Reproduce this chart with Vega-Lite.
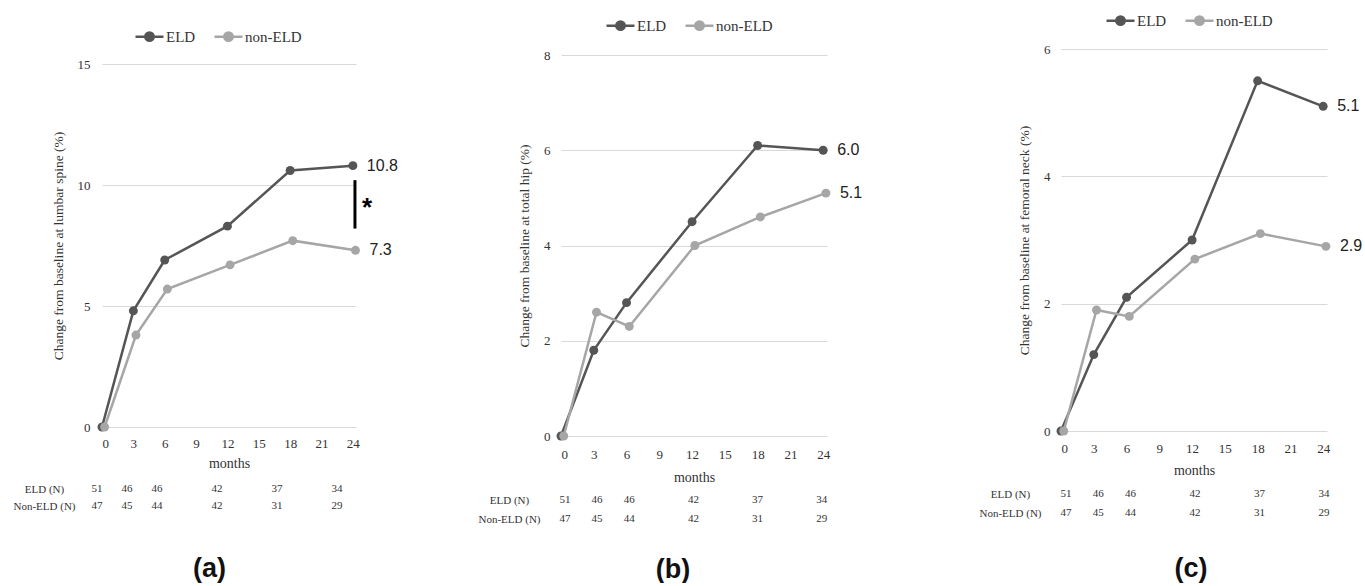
{
  "$schema": "https://vega.github.io/schema/vega-lite/v6.json",
  "background": "white",
  "padding": {"left": 12, "top": 0, "right": 0, "bottom": 0},
  "autosize": {"type": "pad"},
  "spacing": 78,
  "resolve": {"scale": {"color": "independent"}, "legend": {"color": "independent"}},
  "config": {
    "view": {"stroke": null},
    "font": "Liberation Serif",
    "axis": {
      "labelFont": "Liberation Serif", "labelFontSize": 13, "labelColor": "#333333", "labelOverlap": false,
      "titleFont": "Liberation Serif", "titleFontSize": 13.5, "titleFontWeight": "normal", "titleColor": "#333333",
      "ticks": false, "tickSize": 0, "domain": false, "gridColor": "#d9d9d9", "gridWidth": 1.2
    },
    "legend": {
      "direction": "horizontal", "title": null, "padding": 0,
      "symbolType": "M-1,0H1M0.3,0A0.3,0.3,0,1,1,-0.3,0A0.3,0.3,0,1,1,0.3,0Z",
      "symbolSize": 784, "symbolStrokeWidth": 2.5, "symbolOpacity": 1,
      "labelFont": "Liberation Serif", "labelFontSize": 15, "labelColor": "#333333",
      "labelOffset": 1, "columnPadding": 13
    }
  },
  "hconcat": [
    {
      "bounds": "flush",
      "spacing": 0,
      "vconcat": [
        {"width": 254, "height": 64, "data": {"values": []}, "mark": "text"},
        {
          "bounds": "flush",
          "spacing": 53.5,
          "vconcat": [
            {
              "width": 254, "height": 363,
              "layer": [
                {
                  "data": {"values": [
                    {"group": "ELD", "month": 0, "value": 0},
                    {"group": "ELD", "month": 3, "value": 4.8},
                    {"group": "ELD", "month": 6, "value": 6.9},
                    {"group": "ELD", "month": 12, "value": 8.3},
                    {"group": "ELD", "month": 18, "value": 10.6},
                    {"group": "ELD", "month": 24, "value": 10.8},
                    {"group": "non-ELD", "month": 0.25, "value": 0},
                    {"group": "non-ELD", "month": 3.25, "value": 3.8},
                    {"group": "non-ELD", "month": 6.25, "value": 5.7},
                    {"group": "non-ELD", "month": 12.25, "value": 6.7},
                    {"group": "non-ELD", "month": 18.25, "value": 7.7},
                    {"group": "non-ELD", "month": 24.25, "value": 7.3}
                  ]},
                  "layer": [
                    {
                      "mark": {"type": "line", "strokeWidth": 2.5},
                      "encoding": {
                        "x": {"field": "month", "type": "quantitative", "scale": {"domain": [0, 24.3], "nice": false},
                          "axis": {"values": [0, 3, 6, 9, 12, 15, 18, 21, 24], "labelOverlap": false, "labelSeparation": 0, "grid": false, "title": "months", "titleFontSize": 14, "labelPadding": 10, "titlePadding": 6}},
                        "y": {"field": "value", "type": "quantitative", "scale": {"domain": [0, 15], "nice": false},
                          "axis": {"values": [0, 5, 10, 15], "format": "d", "grid": true, "title": "Change from baseline at lumbar spine (%)", "labelPadding": 12, "titlePadding": 12}},
                        "color": {"field": "group", "type": "nominal", "scale": {"domain": ["ELD", "non-ELD"], "range": ["#555555", "#a6a6a6"]},
                          "legend": {"orient": "none", "legendX": 32, "legendY": 21,
                            "encode": {"symbols": {"update": {"fill": {"signal": "datum.value === 'ELD' ? '#555555' : '#a6a6a6'"}, "stroke": {"signal": "datum.value === 'ELD' ? '#555555' : '#a6a6a6'"}}}}}}
                      }
                    },
                    {
                      "mark": {"type": "point", "filled": true, "size": 80, "opacity": 1},
                      "encoding": {
                        "x": {"field": "month", "type": "quantitative", "axis": {"values": [0, 3, 6, 9, 12, 15, 18, 21, 24], "labelOverlap": false}},
                        "y": {"field": "value", "type": "quantitative"},
                        "color": {"field": "group", "type": "nominal"}
                      }
                    },
                    {
                      "transform": [{"filter": "datum.month >= 24"}],
                      "mark": {"type": "text", "align": "left", "baseline": "middle", "dx": 14, "font": "Liberation Sans", "fontSize": 16, "color": "#222222"},
                      "encoding": {
                        "x": {"field": "month", "type": "quantitative", "axis": {"values": [0, 3, 6, 9, 12, 15, 18, 21, 24], "labelOverlap": false}},
                        "y": {"field": "value", "type": "quantitative"},
                        "text": {"field": "value", "type": "quantitative", "format": ".1f"}
                      }
                    }
                  ]
                },
                {
                  "data": {"values": [{"month": 24.2, "value": 10.2, "value2": 8.2}]},
                  "mark": {"type": "rule", "strokeWidth": 3, "color": "#000000"},
                  "encoding": {
                    "x": {"field": "month", "type": "quantitative", "axis": {"values": [0, 3, 6, 9, 12, 15, 18, 21, 24], "labelOverlap": false}},
                    "y": {"field": "value", "type": "quantitative"},
                    "y2": {"field": "value2"}
                  }
                },
                {
                  "data": {"values": [{"month": 24.2, "value": 8.7, "label": "*"}]},
                  "mark": {"type": "text", "align": "left", "baseline": "alphabetic", "dx": 7, "font": "Liberation Sans", "fontSize": 26, "fontWeight": "bold", "color": "#000000"},
                  "encoding": {
                    "x": {"field": "month", "type": "quantitative", "axis": {"values": [0, 3, 6, 9, 12, 15, 18, 21, 24], "labelOverlap": false}},
                    "y": {"field": "value", "type": "quantitative"},
                    "text": {"field": "label"}
                  }
                }
              ]
            },
            {
              "width": 254, "height": 34,
              "data": {"values": [
                {"group": "ELD (N)", "month": 0, "n": 51},
                {"group": "ELD (N)", "month": 3, "n": 46},
                {"group": "ELD (N)", "month": 6, "n": 46},
                {"group": "ELD (N)", "month": 12, "n": 42},
                {"group": "ELD (N)", "month": 18, "n": 37},
                {"group": "ELD (N)", "month": 24, "n": 34},
                {"group": "Non-ELD (N)", "month": 0, "n": 47},
                {"group": "Non-ELD (N)", "month": 3, "n": 45},
                {"group": "Non-ELD (N)", "month": 6, "n": 44},
                {"group": "Non-ELD (N)", "month": 12, "n": 42},
                {"group": "Non-ELD (N)", "month": 18, "n": 31},
                {"group": "Non-ELD (N)", "month": 24, "n": 29}
              ]},
              "title": {"text": "(a)", "orient": "bottom", "frame": "group", "anchor": "middle", "dx": -19.5, "offset": 41, "font": "Liberation Sans", "fontSize": 27, "fontWeight": "bold", "color": "#111111"},
              "mark": {"type": "text", "font": "Liberation Serif", "fontSize": 11, "color": "#333333", "baseline": "middle"},
              "encoding": {
                "x": {"field": "month", "type": "quantitative", "scale": {"domain": [0.5, 25.9], "nice": false, "zero": false}, "axis": null},
                "y": {"field": "group", "type": "nominal", "scale": {"type": "point", "padding": 0.5, "domain": ["ELD (N)", "Non-ELD (N)"]},
                  "axis": {"title": null, "domain": false, "ticks": false, "grid": false, "labelAlign": "center", "labelPadding": 58, "labelFontSize": 11, "labelColor": "#333333"}},
                "text": {"field": "n", "type": "quantitative"}
              }
            }
          ]
        }
      ]
    },
    {
      "bounds": "flush",
      "spacing": 0,
      "vconcat": [
        {"width": 266, "height": 55, "data": {"values": []}, "mark": "text"},
        {
          "bounds": "flush",
          "spacing": 54.5,
          "vconcat": [
            {
              "width": 266, "height": 381,
              "data": {"values": [
                {"group": "ELD", "month": 0, "value": 0},
                {"group": "ELD", "month": 3, "value": 1.8},
                {"group": "ELD", "month": 6, "value": 2.8},
                {"group": "ELD", "month": 12, "value": 4.5},
                {"group": "ELD", "month": 18, "value": 6.1},
                {"group": "ELD", "month": 24, "value": 6.0},
                {"group": "non-ELD", "month": 0.25, "value": 0},
                {"group": "non-ELD", "month": 3.25, "value": 2.6},
                {"group": "non-ELD", "month": 6.25, "value": 2.3},
                {"group": "non-ELD", "month": 12.25, "value": 4.0},
                {"group": "non-ELD", "month": 18.25, "value": 4.6},
                {"group": "non-ELD", "month": 24.25, "value": 5.1}
              ]},
              "layer": [
                {
                  "mark": {"type": "line", "strokeWidth": 2.5},
                  "encoding": {
                    "x": {"field": "month", "type": "quantitative", "scale": {"domain": [0, 24.35], "nice": false},
                      "axis": {"values": [0, 3, 6, 9, 12, 15, 18, 21, 24], "labelOverlap": false, "labelSeparation": 0, "grid": false, "title": "months", "titleFontSize": 14, "labelPadding": 12, "titlePadding": 9}},
                    "y": {"field": "value", "type": "quantitative", "scale": {"domain": [0, 8], "nice": false},
                      "axis": {"values": [0, 2, 4, 6, 8], "format": "d", "grid": true, "title": "Change from baseline at total hip (%)", "labelPadding": 11, "titlePadding": 12}},
                    "color": {"field": "group", "type": "nominal", "scale": {"domain": ["ELD", "non-ELD"], "range": ["#555555", "#a6a6a6"]},
                      "legend": {"orient": "none", "legendX": 44, "legendY": 10,
                        "encode": {"symbols": {"update": {"fill": {"signal": "datum.value === 'ELD' ? '#555555' : '#a6a6a6'"}, "stroke": {"signal": "datum.value === 'ELD' ? '#555555' : '#a6a6a6'"}}}}}}
                  }
                },
                {
                  "mark": {"type": "point", "filled": true, "size": 80, "opacity": 1},
                  "encoding": {
                    "x": {"field": "month", "type": "quantitative", "axis": {"values": [0, 3, 6, 9, 12, 15, 18, 21, 24], "labelOverlap": false}},
                    "y": {"field": "value", "type": "quantitative"},
                    "color": {"field": "group", "type": "nominal"}
                  }
                },
                {
                  "transform": [{"filter": "datum.month >= 24"}],
                  "mark": {"type": "text", "align": "left", "baseline": "middle", "dx": 14, "font": "Liberation Sans", "fontSize": 16, "color": "#222222"},
                  "encoding": {
                    "x": {"field": "month", "type": "quantitative", "axis": {"values": [0, 3, 6, 9, 12, 15, 18, 21, 24], "labelOverlap": false}},
                    "y": {"field": "value", "type": "quantitative"},
                    "text": {"field": "value", "type": "quantitative", "format": ".1f"}
                  }
                }
              ]
            },
            {
              "width": 339, "height": 38,
              "data": {"values": [
                {"group": "ELD (N)", "month": 0, "n": 51},
                {"group": "ELD (N)", "month": 3, "n": 46},
                {"group": "ELD (N)", "month": 6, "n": 46},
                {"group": "ELD (N)", "month": 12, "n": 42},
                {"group": "ELD (N)", "month": 18, "n": 37},
                {"group": "ELD (N)", "month": 24, "n": 34},
                {"group": "Non-ELD (N)", "month": 0, "n": 47},
                {"group": "Non-ELD (N)", "month": 3, "n": 45},
                {"group": "Non-ELD (N)", "month": 6, "n": 44},
                {"group": "Non-ELD (N)", "month": 12, "n": 42},
                {"group": "Non-ELD (N)", "month": 18, "n": 31},
                {"group": "Non-ELD (N)", "month": 24, "n": 29}
              ]},
              "title": {"text": "(b)", "orient": "bottom", "frame": "group", "anchor": "middle", "dx": -57.5, "offset": 28.5, "font": "Liberation Sans", "fontSize": 27, "fontWeight": "bold", "color": "#111111"},
              "mark": {"type": "text", "font": "Liberation Serif", "fontSize": 11, "color": "#333333", "baseline": "middle"},
              "encoding": {
                "x": {"field": "month", "type": "quantitative", "scale": {"domain": [-0.374, 31.31], "nice": false, "zero": false}, "axis": null},
                "y": {"field": "group", "type": "nominal", "scale": {"type": "point", "padding": 0.5, "domain": ["ELD (N)", "Non-ELD (N)"]},
                  "axis": {"title": null, "domain": false, "ticks": false, "grid": false, "labelAlign": "center", "labelPadding": 52, "labelFontSize": 11, "labelColor": "#333333"}},
                "text": {"field": "n", "type": "quantitative"}
              }
            }
          ]
        }
      ]
    },
    {
      "bounds": "flush",
      "spacing": 0,
      "vconcat": [
        {"width": 266, "height": 49, "data": {"values": []}, "mark": "text"},
        {
          "bounds": "flush",
          "spacing": 53.5,
          "vconcat": [
            {
              "width": 266, "height": 382,
              "data": {"values": [
                {"group": "ELD", "month": 0, "value": 0},
                {"group": "ELD", "month": 3, "value": 1.2},
                {"group": "ELD", "month": 6, "value": 2.1},
                {"group": "ELD", "month": 12, "value": 3.0},
                {"group": "ELD", "month": 18, "value": 5.5},
                {"group": "ELD", "month": 24, "value": 5.1},
                {"group": "non-ELD", "month": 0.25, "value": 0},
                {"group": "non-ELD", "month": 3.25, "value": 1.9},
                {"group": "non-ELD", "month": 6.25, "value": 1.8},
                {"group": "non-ELD", "month": 12.25, "value": 2.7},
                {"group": "non-ELD", "month": 18.25, "value": 3.1},
                {"group": "non-ELD", "month": 24.25, "value": 2.9}
              ]},
              "layer": [
                {
                  "mark": {"type": "line", "strokeWidth": 2.5},
                  "encoding": {
                    "x": {"field": "month", "type": "quantitative", "scale": {"domain": [0, 24.35], "nice": false},
                      "axis": {"values": [0, 3, 6, 9, 12, 15, 18, 21, 24], "labelOverlap": false, "labelSeparation": 0, "grid": false, "title": "months", "titleFontSize": 14, "labelPadding": 11, "titlePadding": 8}},
                    "y": {"field": "value", "type": "quantitative", "scale": {"domain": [0, 6], "nice": false},
                      "axis": {"values": [0, 2, 4, 6], "format": "d", "grid": true, "title": "Change from baseline at femoral neck (%)", "labelPadding": 11, "titlePadding": 12}},
                    "color": {"field": "group", "type": "nominal", "scale": {"domain": ["ELD", "non-ELD"], "range": ["#555555", "#a6a6a6"]},
                      "legend": {"orient": "none", "legendX": 44, "legendY": 5,
                        "encode": {"symbols": {"update": {"fill": {"signal": "datum.value === 'ELD' ? '#555555' : '#a6a6a6'"}, "stroke": {"signal": "datum.value === 'ELD' ? '#555555' : '#a6a6a6'"}}}}}}
                  }
                },
                {
                  "mark": {"type": "point", "filled": true, "size": 80, "opacity": 1},
                  "encoding": {
                    "x": {"field": "month", "type": "quantitative", "axis": {"values": [0, 3, 6, 9, 12, 15, 18, 21, 24], "labelOverlap": false}},
                    "y": {"field": "value", "type": "quantitative"},
                    "color": {"field": "group", "type": "nominal"}
                  }
                },
                {
                  "transform": [{"filter": "datum.month >= 24"}],
                  "mark": {"type": "text", "align": "left", "baseline": "middle", "dx": 14, "font": "Liberation Sans", "fontSize": 16, "color": "#222222"},
                  "encoding": {
                    "x": {"field": "month", "type": "quantitative", "axis": {"values": [0, 3, 6, 9, 12, 15, 18, 21, 24], "labelOverlap": false}},
                    "y": {"field": "value", "type": "quantitative"},
                    "text": {"field": "value", "type": "quantitative", "format": ".1f"}
                  }
                }
              ]
            },
            {
              "width": 266, "height": 38,
              "data": {"values": [
                {"group": "ELD (N)", "month": 0, "n": 51},
                {"group": "ELD (N)", "month": 3, "n": 46},
                {"group": "ELD (N)", "month": 6, "n": 46},
                {"group": "ELD (N)", "month": 12, "n": 42},
                {"group": "ELD (N)", "month": 18, "n": 37},
                {"group": "ELD (N)", "month": 24, "n": 34},
                {"group": "Non-ELD (N)", "month": 0, "n": 47},
                {"group": "Non-ELD (N)", "month": 3, "n": 45},
                {"group": "Non-ELD (N)", "month": 6, "n": 44},
                {"group": "Non-ELD (N)", "month": 12, "n": 42},
                {"group": "Non-ELD (N)", "month": 18, "n": 31},
                {"group": "Non-ELD (N)", "month": 24, "n": 29}
              ]},
              "title": {"text": "(c)", "orient": "bottom", "frame": "group", "anchor": "middle", "dx": -3, "offset": 33, "font": "Liberation Sans", "fontSize": 27, "fontWeight": "bold", "color": "#111111"},
              "mark": {"type": "text", "font": "Liberation Serif", "fontSize": 11, "color": "#333333", "baseline": "middle"},
              "encoding": {
                "x": {"field": "month", "type": "quantitative", "scale": {"domain": [-0.465, 24.28], "nice": false, "zero": false}, "axis": null},
                "y": {"field": "group", "type": "nominal", "scale": {"type": "point", "padding": 0.5, "domain": ["ELD (N)", "Non-ELD (N)"]},
                  "axis": {"title": null, "domain": false, "ticks": false, "grid": false, "labelAlign": "center", "labelPadding": 51, "labelFontSize": 11, "labelColor": "#333333"}},
                "text": {"field": "n", "type": "quantitative"}
              }
            }
          ]
        }
      ]
    }
  ]
}
